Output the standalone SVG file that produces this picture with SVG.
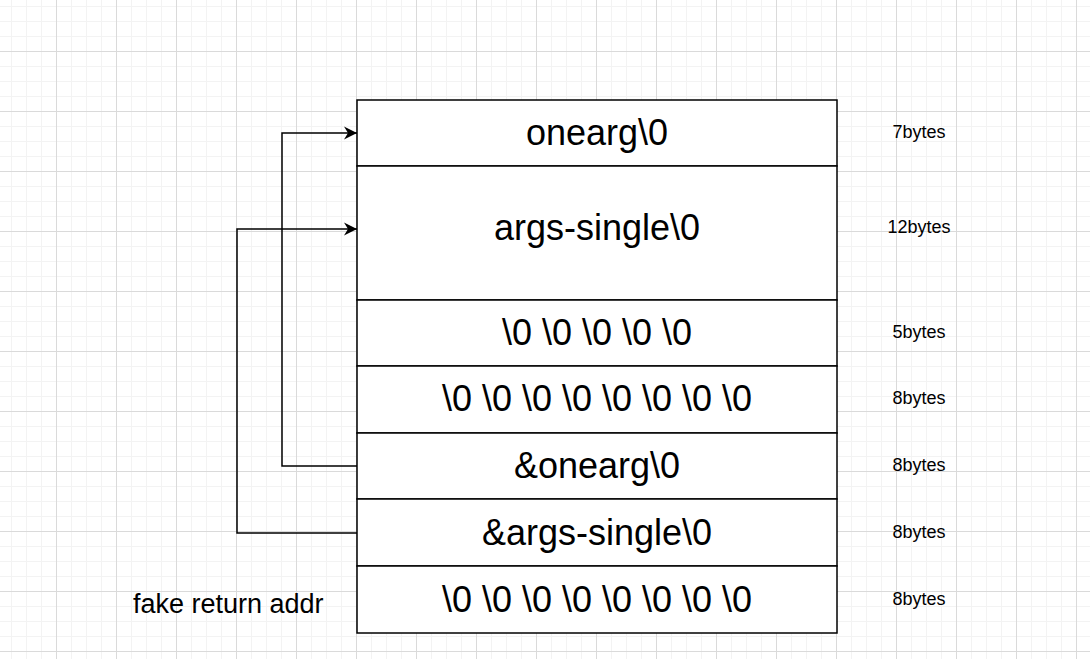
<svg xmlns="http://www.w3.org/2000/svg" width="1090" height="659" viewBox="0 0 1090 659">
  <style>
    .cell { fill: #ffffff; stroke: #000000; stroke-width: 1.5; }
    .big { font-family: "Liberation Sans", Arial, sans-serif; font-size: 36px; fill: #000000; text-anchor: middle; }
    .side { font-family: "Liberation Sans", Arial, sans-serif; font-size: 18px; fill: #000000; text-anchor: middle; }
    .note { font-family: "Liberation Sans", Arial, sans-serif; font-size: 27px; fill: #000000; }
    .conn { fill: none; stroke: #000000; stroke-width: 1.5; }
  </style>
  <defs>
    <pattern id="grid" x="-4" y="-9" width="60" height="60" patternUnits="userSpaceOnUse">
      <rect x="15" y="0" width="1" height="60" fill="#f3f3f3"/>
      <rect x="30" y="0" width="1" height="60" fill="#f3f3f3"/>
      <rect x="45" y="0" width="1" height="60" fill="#f3f3f3"/>
      <rect x="0" y="15" width="60" height="1" fill="#f3f3f3"/>
      <rect x="0" y="30" width="60" height="1" fill="#f3f3f3"/>
      <rect x="0" y="45" width="60" height="1" fill="#f3f3f3"/>
      <rect x="0" y="0" width="1" height="60" fill="#dadada"/>
      <rect x="0" y="0" width="60" height="1" fill="#dadada"/>
    </pattern>
    <marker id="arrow" markerWidth="14" markerHeight="14" refX="13" refY="7" orient="auto" markerUnits="userSpaceOnUse">
      <path d="M0,0.5 L13,7 L0,13.5 L4,7 Z" fill="#000000"/>
    </marker>
  </defs>
  <rect x="0" y="0" width="1090" height="659" fill="#ffffff"/>
  <rect x="0" y="0" width="1090" height="659" fill="url(#grid)"/>

  <g id="row-onearg">
    <rect class="cell" x="357" y="100" width="480" height="66"/>
    <text class="big" x="597" y="145">onearg\0</text>
  </g>
  <g id="row-args-single">
    <rect class="cell" x="357" y="166" width="480" height="134"/>
    <text class="big" x="597" y="240">args-single\0</text>
  </g>
  <g id="row-pad5">
    <rect class="cell" x="357" y="300" width="480" height="66"/>
    <text class="big" x="597" y="345">\0 \0 \0 \0 \0</text>
  </g>
  <g id="row-pad8">
    <rect class="cell" x="357" y="366" width="480" height="67"/>
    <text class="big" x="597" y="411">\0 \0 \0 \0 \0 \0 \0 \0</text>
  </g>
  <g id="row-ptr-onearg">
    <rect class="cell" x="357" y="433" width="480" height="66"/>
    <text class="big" x="597" y="478">&amp;onearg\0</text>
  </g>
  <g id="row-ptr-args-single">
    <rect class="cell" x="357" y="499" width="480" height="67"/>
    <text class="big" x="597" y="545">&amp;args-single\0</text>
  </g>
  <g id="row-fake-ret">
    <rect class="cell" x="357" y="566" width="480" height="67"/>
    <text class="big" x="597" y="612">\0 \0 \0 \0 \0 \0 \0 \0</text>
  </g>

  <g id="label-fake-return">
    <text class="note" x="133" y="613">fake return addr</text>
  </g>

  <g id="sizes">
    <text class="side" x="919" y="138">7bytes</text>
    <text class="side" x="919" y="233">12bytes</text>
    <text class="side" x="919" y="338">5bytes</text>
    <text class="side" x="919" y="404">8bytes</text>
    <text class="side" x="919" y="471">8bytes</text>
    <text class="side" x="919" y="538">8bytes</text>
    <text class="side" x="919" y="605">8bytes</text>
  </g>

  <g id="connectors">
    <path class="conn" d="M357,466 L282,466 L282,133 L357,133" marker-end="url(#arrow)"/>
    <path class="conn" d="M357,533 L237,533 L237,229 L357,229" marker-end="url(#arrow)"/>
  </g>
</svg>
